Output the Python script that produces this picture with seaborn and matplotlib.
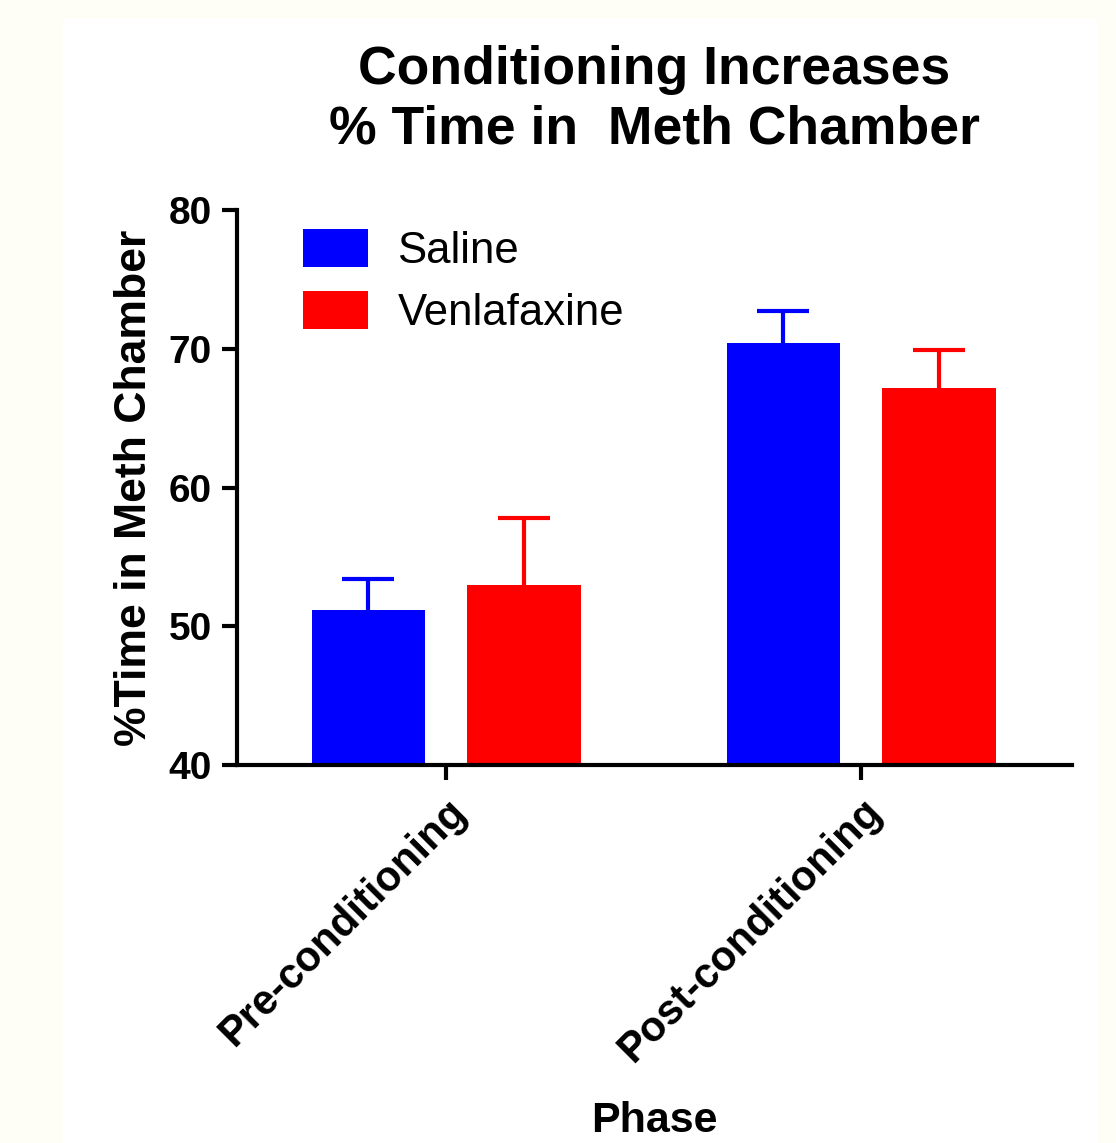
import matplotlib
matplotlib.use("Agg")
import matplotlib.pyplot as plt
from matplotlib.patches import Rectangle
import seaborn as sns
import pandas as pd

# ---- data ----
phases = ["Pre-conditioning", "Post-conditioning"]
groups = ["Saline", "Venlafaxine"]
saline_mean = [51.2, 70.4]
venla_mean = [53.0, 67.2]
saline_sem = [2.2, 2.35]
venla_sem = [4.8, 2.7]
colors = ["#0000FF", "#FF0000"]
yticks = [40, 50, 60, 70, 80]

df = pd.DataFrame({
    "Phase": phases * 2,
    "Group": [groups[0]] * 2 + [groups[1]] * 2,
    "Value": saline_mean + venla_mean,
})
sems = {groups[0]: saline_sem, groups[1]: venla_sem}

sns.set_theme(style="ticks")
plt.rcParams["font.family"] = ["Liberation Sans", "DejaVu Sans"]
plt.rcParams.update({"text.color": "black", "axes.labelcolor": "black",
                     "xtick.color": "black", "ytick.color": "black",
                     "axes.edgecolor": "black"})

fig = plt.figure(figsize=(11.16, 11.43), dpi=100, facecolor="#FEFEF6")
fig.patches.append(Rectangle((63 / 1116, 0), (1097 - 63) / 1116, (1143 - 19) / 1143,
                             transform=fig.transFigure, facecolor="white",
                             edgecolor="none", zorder=-10))
ax = fig.add_axes([237 / 1116, 1 - 765 / 1143, (1072 - 237) / 1116, (765 - 210) / 1143])
ax.set_facecolor("none")

sns.barplot(data=df, x="Phase", y="Value", hue="Group", order=phases, hue_order=groups,
            palette=colors, saturation=1, width=0.75, gap=0.27, errorbar=None,
            edgecolor="none", linewidth=0, ax=ax, zorder=2)

for cont, g, c in zip(ax.containers, groups, colors):
    xs = [b.get_x() + b.get_width() / 2 for b in cont]
    ys = [b.get_height() for b in cont]
    eb = ax.errorbar(xs, ys, yerr=[[0] * len(ys), sems[g]], fmt="none", ecolor=c,
                     elinewidth=3, capsize=19, capthick=3, zorder=1)
    caps = eb.lines[1]
    if len(caps) >= 2:
        caps[0].set_visible(False)

ax.set_ylim(40, 80)
ax.set_xlim(-0.504, 1.508)
ax.set_yticks(yticks)
ax.set_yticklabels([str(t) for t in yticks], fontsize=28, fontweight="bold")
ax.set_xticks(range(len(phases)))
ax.set_xticklabels(phases, rotation=45, ha="right", rotation_mode="anchor",
                   fontsize=30, fontweight="bold", va="top")
for s in ["top", "right"]:
    ax.spines[s].set_visible(False)
for s in ["left", "bottom"]:
    ax.spines[s].set_linewidth(3)
    ax.spines[s].set_color("black")
ax.tick_params(axis="both", width=3, length=11, color="black", direction="out")
ax.tick_params(axis="y", pad=7)
ax.tick_params(axis="x", pad=8)

ax.set_ylabel("%Time in Meth Chamber", fontsize=32, fontweight="bold", labelpad=10)
ax.set_xlabel("Phase", fontsize=31, fontweight="bold", labelpad=22)
ax.set_title("Conditioning Increases\n% Time in  Meth Chamber", fontsize=38.5,
             fontweight="bold", pad=48, linespacing=1.24)

leg = ax.legend(loc="upper left", bbox_to_anchor=(0.079, 0.965), frameon=False,
                fontsize=31.5, handlelength=1.48, handleheight=0.96,
                handletextpad=0.68, labelspacing=0.42, borderpad=0, borderaxespad=0)

fig.savefig("out.png", dpi=100, facecolor=fig.get_facecolor())
